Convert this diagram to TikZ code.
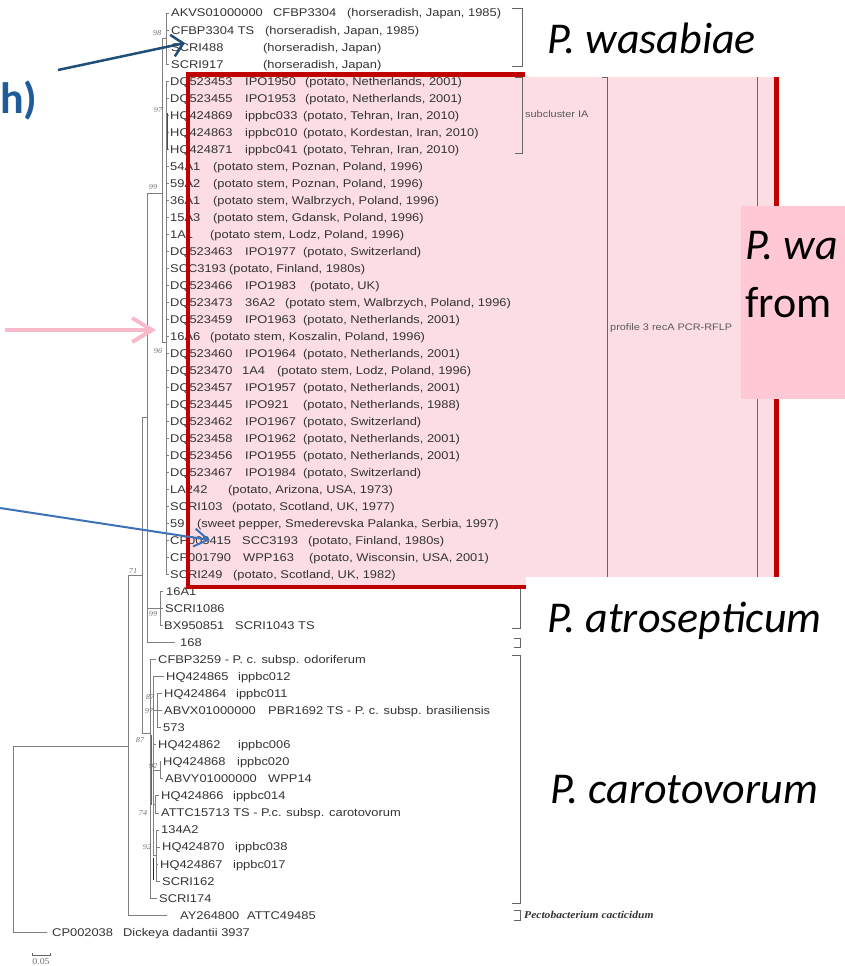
\documentclass[tikz,border=0pt]{standalone}
\usepackage{fontspec}
\usetikzlibrary{arrows.meta}
\newfontfamily\treefont[FakeStretch=1.15]{Liberation Sans}
\newfontfamily\slidefont{Carlito}
\newfontfamily\bootfont[FakeStretch=1.1]{Liberation Serif}
\definecolor{boxpink}{RGB}{252,221,228}
\definecolor{tagpink}{RGB}{255,200,212}
\definecolor{boxred}{RGB}{192,0,0}
\definecolor{navy}{RGB}{31,78,121}
\definecolor{midblue}{RGB}{61,114,184}
\definecolor{arrpink}{RGB}{248,186,202}
\definecolor{hblue}{RGB}{31,92,153}
\newcommand\cA[2]{\makebox[#1pt][l]{#2}}
\begin{document}
\begin{tikzpicture}[x=1pt,y=-1pt,
  leaf/.style={anchor=west,inner sep=0pt,text height=8pt,text depth=0pt,text=black!80,
    font=\treefont\fontsize{11.2}{12}\selectfont},
  br/.style={draw=black!50,line width=0.9pt},
  brk/.style={draw=black!60,line width=0.9pt},
  boot/.style={inner sep=0pt,text=black!55,font=\bootfont\itshape\fontsize{7.5}{8}\selectfont},
  tag/.style={anchor=west,inner sep=0pt,text=black!65,font=\treefont\fontsize{9.5}{10}\selectfont},
  sp/.style={anchor=base west,inner sep=0pt,font=\slidefont\itshape\fontsize{44}{48}\selectfont}]
\pgfmathsetmacro{\yo}{13}
\pgfmathsetmacro{\dy}{17.02}
\useasboundingbox (0,0) rectangle (845,966);
\fill[boxpink] (188,74.7) rectangle (776.5,587);
% tree
\draw[br] (47,\yo+54*\dy) -| (13,746) -- (128,746);
\draw[br] (142,575) -- (128,575) -- (128,\yo+53*\dy) -- (167,\yo+53*\dy);
\draw[br] (147,417) -- (142,417) -- (142,733) -- (150,733);
\draw[br] (162,193) -- (147,193) -- (147,\yo+37*\dy) -- (175,\yo+37*\dy);
\draw[br] (147,608) -- (160,608);
\draw[br] (163,\yo+34*\dy) -- (160,\yo+34*\dy) -- (160,\yo+36*\dy) -- (163,\yo+36*\dy);
\draw[br] (160,\yo+35*\dy) -- (163,\yo+35*\dy);
\draw[br] (166,38) -- (162,38) -- (162,342) -- (166,342);
\draw[br] (166,\yo) -- (166,\yo+3*\dy);
\draw[br] (166,\yo+4*\dy) -- (166,\yo+33*\dy);
\foreach \i in {0,...,33} \draw[br] (166,\yo+\i*\dy) -- ++(3,0);
\draw[black!70,line width=1.8pt] (167.5,113) -- (167.5,150);
%
\draw[br] (156,\yo+38*\dy) -- (150,\yo+38*\dy) -- (150,\yo+52*\dy) -- (157,\yo+52*\dy);
\draw[br] (150,766) -- (153,766);
\draw[br] (164,\yo+39*\dy) -- (153,\yo+39*\dy) -- (153,855);
\draw[br] (153,\yo+43*\dy) -- (156,\yo+43*\dy);
\draw[br] (153,710) -- (157,710);
\draw[br] (162,\yo+40*\dy) -- (157,\yo+40*\dy) -- (157,\yo+42*\dy) -- (161,\yo+42*\dy);
\draw[br] (157,\yo+41*\dy) -- (162,\yo+41*\dy);
\draw[br] (153,770) -- (160,770);
\draw[br] (161,\yo+44*\dy) -- (160,\yo+44*\dy) -- (160,\yo+45*\dy) -- (163,\yo+45*\dy);
\draw[br] (153,804) -- (155,804);
\draw[br] (159,\yo+46*\dy) -- (155,\yo+46*\dy) -- (155,\yo+47*\dy) -- (159,\yo+47*\dy);
\draw[br] (153,855) -- (156,855);
\draw[br] (159,\yo+48*\dy) -- (156,\yo+48*\dy) -- (156,\yo+51*\dy) -- (160,\yo+51*\dy);
\draw[br] (156,\yo+49*\dy) -- (160,\yo+49*\dy);
\draw[br] (156,\yo+50*\dy) -- (158,\yo+50*\dy);
\draw[black!60,line width=1.6pt] (151.5,735) -- (151.5,805);
\draw[black!85,line width=1.2pt] (153.5,858) -- (153.5,880);
% leaves
\node[leaf] (l1) at (171,\yo) {\cA{102}{AKVS01000000}\cA{74}{CFBP3304}(horseradish, Japan, 1985)};
\node[leaf] (l2) at (171,\yo+1*\dy) {\cA{94}{CFBP3304 TS}(horseradish, Japan, 1985)};
\node[leaf] (l3) at (171,\yo+2*\dy) {\cA{92}{SCRI488}(horseradish, Japan)};
\node[leaf] (l4) at (171,\yo+3*\dy) {\cA{92}{SCRI917}(horseradish, Japan)};
\node[leaf] (l5) at (170,\yo+4*\dy) {\cA{75}{DQ523453}\cA{60}{IPO1950}(potato, Netherlands, 2001)};
\node[leaf] (l6) at (170,\yo+5*\dy) {\cA{75}{DQ523455}\cA{60}{IPO1953}(potato, Netherlands, 2001)};
\node[leaf] (l7) at (170,\yo+6*\dy) {\cA{75}{HQ424869}\cA{58}{ippbc033}(potato, Tehran, Iran, 2010)};
\node[leaf] (l8) at (170,\yo+7*\dy) {\cA{75}{HQ424863}\cA{58}{ippbc010}(potato, Kordestan, Iran, 2010)};
\node[leaf] (l9) at (170,\yo+8*\dy) {\cA{75}{HQ424871}\cA{58}{ippbc041}(potato, Tehran, Iran, 2010)};
\node[leaf] (l10) at (170,\yo+9*\dy) {\cA{43}{54A1}(potato stem, Poznan, Poland, 1996)};
\node[leaf] (l11) at (170,\yo+10*\dy) {\cA{43}{59A2}(potato stem, Poznan, Poland, 1996)};
\node[leaf] (l12) at (170,\yo+11*\dy) {\cA{43}{36A1}(potato stem, Walbrzych, Poland, 1996)};
\node[leaf] (l13) at (170,\yo+12*\dy) {\cA{43}{15A3}(potato stem, Gdansk, Poland, 1996)};
\node[leaf] (l14) at (170,\yo+13*\dy) {\cA{40}{1A1}(potato stem, Lodz, Poland, 1996)};
\node[leaf] (l15) at (170,\yo+14*\dy) {\cA{75}{DQ523463}\cA{58}{IPO1977}(potato, Switzerland)};
\node[leaf] (l16) at (170,\yo+15*\dy) {\cA{59}{SCC3193}(potato, Finland, 1980s)};
\node[leaf] (l17) at (170,\yo+16*\dy) {\cA{75}{DQ523466}\cA{65}{IPO1983}(potato, UK)};
\node[leaf] (l18) at (170,\yo+17*\dy) {\cA{75}{DQ523473}\cA{40}{36A2}(potato stem, Walbrzych, Poland, 1996)};
\node[leaf] (l19) at (170,\yo+18*\dy) {\cA{75}{DQ523459}\cA{58}{IPO1963}(potato, Netherlands, 2001)};
\node[leaf] (l20) at (170,\yo+19*\dy) {\cA{40}{16A6}(potato stem, Koszalin, Poland, 1996)};
\node[leaf] (l21) at (170,\yo+20*\dy) {\cA{75}{DQ523460}\cA{58}{IPO1964}(potato, Netherlands, 2001)};
\node[leaf] (l22) at (170,\yo+21*\dy) {\cA{72}{DQ523470}\cA{35}{1A4}(potato stem, Lodz, Poland, 1996)};
\node[leaf] (l23) at (170,\yo+22*\dy) {\cA{75}{DQ523457}\cA{58}{IPO1957}(potato, Netherlands, 2001)};
\node[leaf] (l24) at (170,\yo+23*\dy) {\cA{75}{DQ523445}\cA{58}{IPO921}(potato, Netherlands, 1988)};
\node[leaf] (l25) at (170,\yo+24*\dy) {\cA{75}{DQ523462}\cA{58}{IPO1967}(potato, Switzerland)};
\node[leaf] (l26) at (170,\yo+25*\dy) {\cA{75}{DQ523458}\cA{58}{IPO1962}(potato, Netherlands, 2001)};
\node[leaf] (l27) at (170,\yo+26*\dy) {\cA{75}{DQ523456}\cA{58}{IPO1955}(potato, Netherlands, 2001)};
\node[leaf] (l28) at (170,\yo+27*\dy) {\cA{75}{DQ523467}\cA{58}{IPO1984}(potato, Switzerland)};
\node[leaf] (l29) at (170,\yo+28*\dy) {\cA{58}{LA242}(potato, Arizona, USA, 1973)};
\node[leaf] (l30) at (170,\yo+29*\dy) {\cA{62}{SCRI103}(potato, Scotland, UK, 1977)};
\node[leaf] (l31) at (170,\yo+30*\dy) {\cA{27}{59}(sweet pepper, Smederevska Palanka, Serbia, 1997)};
\node[leaf] (l32) at (170,\yo+31*\dy) {\cA{72}{CP003415}\cA{66}{SCC3193}(potato, Finland, 1980s)};
\node[leaf] (l33) at (170,\yo+32*\dy) {\cA{73}{CP001790}\cA{66}{WPP163}(potato, Wisconsin, USA, 2001)};
\node[leaf] (l34) at (170,\yo+33*\dy) {\cA{63}{SCRI249}(potato, Scotland, UK, 1982)};
\node[leaf] (l35) at (166,\yo+34*\dy) {16A1};
\node[leaf] (l36) at (165,\yo+35*\dy) {SCRI1086};
\node[leaf] (l37) at (164,\yo+36*\dy) {\cA{71}{BX950851}SCRI1043 TS};
\node[leaf] (l38) at (180,\yo+37*\dy) {168};
\node[leaf] (l39) at (158,\yo+38*\dy) {CFBP3259 - P. c. subsp. odoriferum};
\node[leaf] (l40) at (166,\yo+39*\dy) {\cA{72}{HQ424865}ippbc012};
\node[leaf] (l41) at (164,\yo+40*\dy) {\cA{72}{HQ424864}ippbc011};
\node[leaf] (l42) at (164,\yo+41*\dy) {\cA{104}{ABVX01000000}PBR1692 TS - P. c. subsp. brasiliensis};
\node[leaf] (l43) at (163,\yo+42*\dy) {573};
\node[leaf] (l44) at (158,\yo+43*\dy) {\cA{80}{HQ424862}ippbc006};
\node[leaf] (l45) at (163,\yo+44*\dy) {\cA{74}{HQ424868}ippbc020};
\node[leaf] (l46) at (165,\yo+45*\dy) {\cA{103}{ABVY01000000}WPP14};
\node[leaf] (l47) at (161,\yo+46*\dy) {\cA{72}{HQ424866}ippbc014};
\node[leaf] (l48) at (161,\yo+47*\dy) {ATTC15713 TS - P.c. subsp. carotovorum};
\node[leaf] (l49) at (161,\yo+48*\dy) {134A2};
\node[leaf] (l50) at (162,\yo+49*\dy) {\cA{73}{HQ424870}ippbc038};
\node[leaf] (l51) at (160,\yo+50*\dy) {\cA{73}{HQ424867}ippbc017};
\node[leaf] (l52) at (162,\yo+51*\dy) {SCRI162};
\node[leaf] (l53) at (159,\yo+52*\dy) {SCRI174};
\node[leaf] (l54) at (180,\yo+53*\dy) {\cA{67}{AY264800}ATTC49485};
\node[leaf] (l55) at (52,\yo+54*\dy) {\cA{71}{CP002038}Dickeya dadantii 3937};
% bootstrap values
\node[boot] (b1) at (157,33) {98};
\node[boot] (b2) at (158,110) {97};
\node[boot] (b3) at (153,187) {99};
\node[boot] (b4) at (158,351) {96};
\node[boot] (b5) at (133,571) {71};
\node[boot] (b6) at (153,614) {99};
\node[boot] (b7) at (150,697) {87};
\node[boot] (b8) at (149,711) {97};
\node[boot] (b9) at (140,740) {87};
\node[boot] (b10) at (153,766) {92};
\node[boot] (b11) at (143,813) {74};
\node[boot] (b12) at (147,847) {92};
% scale bar
\draw[black!60,line width=0.6pt] (32,953) -- (32,955) -- (50,955) -- (50,953);
\node[boot,font=\bootfont\fontsize{9}{9}\selectfont] (sc) at (41,962) {0.05};
% brackets
\draw[brk] (512,8) -- (522,8) -- (522,66) -- (512,66);
\draw[brk] (515,77) -- (522,77) -- (522,153) -- (515,153);
\node[tag] (tIA) at (525,114) {subcluster IA};
\draw[brk] (602,77) -- (607,77) -- (607,577);
\node[tag] (tRF) at (610,328) {profile 3 recA PCR-RFLP};
\draw[brk] (757,77) -- (757,577);
\draw[brk] (512,587) -- (520,587) -- (520,628) -- (512,628);
\draw[brk] (514,638) -- (520,638) -- (520,647) -- (514,647);
\draw[brk] (512,655) -- (520,655) -- (520,903) -- (512,903);
\draw[brk] (514,910) -- (520,910) -- (520,920) -- (514,920);
\node[anchor=west,inner sep=0pt,text=black!80,
  font=\bootfont\bfseries\itshape\fontsize{10.5}{11}\selectfont] (cact) at (524,915) {Pectobacterium cacticidum};
% red box and slide labels
\draw[boxred,line width=4.5pt] (188,74.7) rectangle (776.5,587);
\fill[white] (525,0) rectangle (845,76.5);
\fill[white] (526,577) rectangle (845,650);
\fill[tagpink] (741,206) rectangle (845,399);
\node[sp] (wasa) at (547,53) {P. wasabiae};
\node[sp] (atro) at (547,632) {P. atrosepticum};
\node[sp] (caro) at (550,803) {P. carotovorum};
\node[sp] (pw) at (745,259) {P. wa};
\node[sp,font=\slidefont\fontsize{44}{48}\selectfont] (from) at (745,317) {from};
\node[anchor=base west,inner sep=0pt,text=hblue,
  font=\slidefont\bfseries\fontsize{44}{48}\selectfont] (hh) at (0,113) {h)};
% arrows
\coordinate (aS) at (58,70);
\coordinate (aT) at (185,43);
\draw[navy,line width=2.5pt,-{Straight Barb[length=11pt,width=22pt]}] (aS) -- (aT);
\coordinate (pS) at (5,330);
\coordinate (pT) at (156,330);
\draw[arrpink,line width=4pt,-{Straight Barb[length=20pt,width=24pt]}] (pS) -- (pT);
\coordinate (bS) at (0,508);
\coordinate (bT) at (210,540);
\draw[midblue,line width=2pt,-{Straight Barb[length=14pt,width=18pt]}] (bS) -- (bT);
\end{tikzpicture}
\end{document}
